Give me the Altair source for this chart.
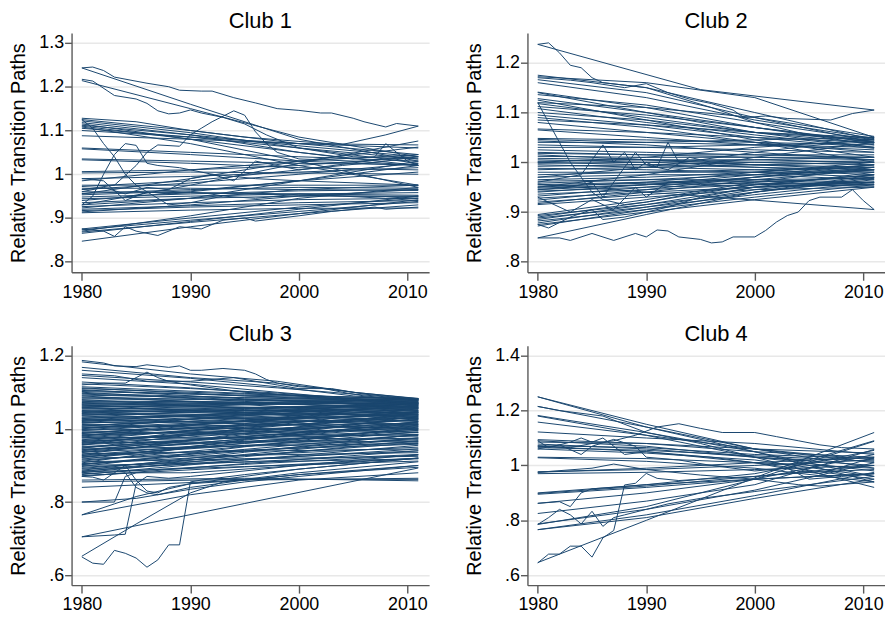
import altair as alt
import pandas as pd

LINE_COLOR = "#1a476f"
FONT = "Liberation Sans"

X_TICKS = [1980, 1990, 2000, 2010]
X_DOMAIN = [1979.05, 2012.0]

# knot years for the nearly straight paths
BULK_YEARS_4 = [1980, 1990, 2000, 2011]
BULK_YEARS_3 = [1980, 1995, 2011]

# ---------------- Club 1 ----------------
C1_TICKS = [0.8, 0.9, 1.0, 1.1, 1.2, 1.3]
C1_DOMAIN = [0.776, 1.323]
C1_BULK = [
    [1.243, 1.160, 1.080, 1.030], [1.214, 1.150, 1.085, 1.040],
    [1.125, 1.100, 1.070, 1.045], [1.122, 1.095, 1.060, 1.035],
    [1.118, 1.090, 1.050, 1.020], [1.115, 1.080, 1.030, 0.970],
    [1.112, 1.090, 1.065, 1.040], [1.108, 1.070, 1.020, 0.975],
    [1.105, 1.085, 1.060, 1.025], [1.100, 1.085, 1.070, 1.060],
    [1.088, 1.080, 1.070, 1.067], [1.060, 1.050, 1.040, 1.030],
    [1.058, 1.045, 1.030, 1.020], [1.035, 1.030, 1.025, 1.022],
    [1.033, 1.025, 1.015, 1.010], [1.006, 1.010, 1.020, 1.040],
    [1.003, 1.005, 1.003, 1.000], [0.990, 0.995, 1.005, 1.015],
    [0.975, 0.975, 0.975, 0.975], [0.972, 0.985, 1.010, 1.045],
    [0.968, 0.968, 0.965, 0.963], [0.965, 0.980, 1.000, 1.025],
    [0.960, 0.958, 0.955, 0.952], [0.956, 0.965, 0.970, 0.968],
    [0.953, 0.962, 0.985, 1.020], [0.948, 0.955, 0.962, 0.965],
    [0.944, 0.950, 0.955, 0.958], [0.940, 0.960, 0.985, 1.005],
    [0.935, 0.945, 0.950, 0.950], [0.930, 0.945, 0.965, 0.975],
    [0.926, 0.935, 0.942, 0.945], [0.923, 0.945, 0.985, 1.030],
    [0.920, 0.928, 0.935, 0.940], [0.917, 0.925, 0.930, 0.935],
    [0.914, 0.930, 0.950, 0.965], [0.912, 0.918, 0.922, 0.923],
    [0.875, 0.900, 0.925, 0.945], [0.873, 0.895, 0.915, 0.938],
    [0.870, 0.905, 0.945, 0.970], [0.868, 0.890, 0.910, 0.930],
    [0.865, 0.892, 0.920, 0.950], [0.847, 0.880, 0.910, 0.942],
    [0.930, 0.975, 1.025, 1.076], [0.955, 0.990, 1.030, 1.062],
    [0.985, 1.010, 1.030, 1.045],
]
C1_PATHS = [
    [(1980, 1.243), (1981, 1.245), (1982, 1.237), (1983, 1.222), (1986, 1.208), (1988, 1.200),
     (1989, 1.192), (1991, 1.190), (1992, 1.190), (1994, 1.175), (1996, 1.163), (1998, 1.150),
     (2000, 1.146), (2002, 1.140), (2003, 1.140), (2005, 1.128), (2006, 1.120), (2008, 1.108),
     (2009, 1.116), (2011, 1.110)],
    [(1980, 1.217), (1981, 1.213), (1983, 1.180), (1985, 1.172), (1986, 1.162), (1987, 1.145),
     (1988, 1.138), (1989, 1.140), (1990, 1.147), (1991, 1.140), (1993, 1.130), (1995, 1.115),
     (1997, 1.090), (2000, 1.060), (2005, 1.040), (2011, 1.035)],
    [(1980, 1.125), (1981, 1.105), (1982, 1.070), (1983, 1.040), (1984, 1.000), (1985, 0.975),
     (1986, 0.960), (1988, 0.955), (1990, 0.958), (1995, 0.955), (2000, 0.952), (2011, 0.948)],
    [(1980, 0.930), (1981, 0.950), (1982, 1.000), (1983, 1.045), (1984, 1.070), (1985, 1.066),
     (1986, 1.025), (1987, 1.020), (1989, 1.015), (1992, 1.000), (1996, 0.990), (2000, 0.985),
     (2011, 0.975)],
    [(1980, 0.965), (1983, 0.975), (1985, 1.020), (1986, 1.050), (1987, 1.067), (1989, 1.064),
     (1990, 1.090), (1991, 1.105), (1992, 1.120), (1994, 1.145), (1995, 1.135), (1996, 1.097),
     (1997, 1.070), (1998, 1.050), (2000, 1.035), (2005, 1.030), (2011, 1.020)],
    [(1980, 1.110), (1990, 1.080), (2000, 1.050), (2005, 1.035), (2007, 1.040), (2008, 1.070),
     (2009, 1.050), (2010, 1.030), (2011, 1.020)],
    [(1980, 1.128), (1985, 1.120), (1990, 1.100), (1995, 1.085), (2000, 1.075), (2004, 1.068),
     (2008, 1.090), (2011, 1.110)],
    [(1980, 0.875), (1982, 0.870), (1983, 0.858), (1984, 0.880), (1985, 0.870), (1987, 0.860),
     (1989, 0.880), (1991, 0.875), (1993, 0.895), (1995, 0.900), (1996, 0.893), (2000, 0.905),
     (2003, 0.915), (2007, 0.925), (2008, 0.920), (2011, 0.925)],
    [(1980, 0.960), (1982, 0.970), (1984, 0.955), (1986, 0.970), (1988, 0.965), (1990, 0.990),
     (1992, 1.000), (1994, 0.985), (1996, 1.030), (1998, 1.020), (2000, 1.010), (2004, 1.020),
     (2008, 1.030), (2011, 1.040)],
    [(1980, 0.990), (1982, 0.985), (1984, 0.940), (1986, 0.960), (1988, 0.930), (1990, 0.935),
     (1993, 0.950), (1996, 0.945), (2000, 0.955), (2004, 0.950), (2008, 0.945), (2011, 0.950)],
]

# ---------------- Club 2 ----------------
C2_TICKS = [0.8, 0.9, 1.0, 1.1, 1.2]
C2_DOMAIN = [0.779, 1.26]
C2_BULK = [
    [1.175, 1.150, 1.100, 1.045], [1.172, 1.160, 1.130, 1.050],
    [1.166, 1.140, 1.090, 1.040], [1.160, 1.130, 1.085, 1.048],
    [1.141, 1.110, 1.070, 1.035], [1.140, 1.100, 1.060, 1.030],
    [1.136, 1.115, 1.080, 1.045], [1.128, 1.100, 1.070, 1.040],
    [1.125, 1.085, 1.045, 1.010], [1.120, 1.110, 1.090, 1.052],
    [1.118, 1.090, 1.060, 1.038], [1.112, 1.095, 1.070, 1.042],
    [1.108, 1.080, 1.055, 1.030], [1.100, 1.085, 1.060, 1.050],
    [1.095, 1.075, 1.050, 1.028], [1.090, 1.070, 1.040, 1.000],
    [1.085, 1.075, 1.060, 1.045], [1.080, 1.060, 1.040, 1.020],
    [1.067, 1.060, 1.050, 1.040], [1.065, 1.050, 1.035, 1.025],
    [1.048, 1.045, 1.040, 1.035], [1.046, 1.040, 1.035, 1.030],
    [1.043, 1.035, 1.020, 1.005], [1.040, 1.040, 1.045, 1.050],
    [1.035, 1.030, 1.025, 1.020], [1.030, 1.030, 1.035, 1.040],
    [1.025, 1.020, 1.015, 1.010], [1.020, 1.015, 1.010, 1.005],
    [1.018, 1.015, 1.015, 1.015], [1.015, 1.005, 0.995, 0.985],
    [1.012, 1.010, 1.010, 1.010], [1.008, 1.005, 1.000, 0.995],
    [1.005, 1.000, 0.995, 0.990], [1.002, 1.005, 1.005, 1.000],
    [1.000, 0.995, 0.990, 0.980], [0.998, 1.000, 1.005, 1.010],
    [0.995, 0.990, 0.985, 0.975], [0.992, 0.995, 1.000, 1.003],
    [0.988, 0.985, 0.980, 0.970], [0.985, 0.990, 0.995, 1.000],
    [0.980, 0.980, 0.980, 0.980], [0.975, 0.980, 0.985, 0.990],
    [0.970, 0.975, 0.975, 0.965], [0.965, 0.970, 0.980, 0.995],
    [0.962, 0.965, 0.965, 0.960], [0.958, 0.965, 0.975, 0.985],
    [0.955, 0.960, 0.965, 0.968], [0.952, 0.958, 0.962, 0.958],
    [0.950, 0.960, 0.980, 1.000], [0.948, 0.955, 0.958, 0.955],
    [0.945, 0.955, 0.970, 0.985], [0.942, 0.950, 0.955, 0.952],
    [0.940, 0.955, 0.975, 0.995], [0.936, 0.945, 0.955, 0.960],
    [0.932, 0.950, 0.970, 0.990], [0.928, 0.940, 0.950, 0.955],
    [0.924, 0.945, 0.970, 0.995], [0.920, 0.935, 0.950, 0.960],
    [0.917, 0.940, 0.965, 0.985], [0.915, 0.930, 0.945, 0.950],
    [0.895, 0.925, 0.960, 0.990], [0.893, 0.915, 0.940, 0.965],
    [0.890, 0.920, 0.955, 0.975], [0.888, 0.910, 0.935, 0.960],
    [0.885, 0.915, 0.950, 0.980], [0.882, 0.905, 0.930, 0.955],
    [0.878, 0.910, 0.945, 0.970], [0.875, 0.900, 0.925, 0.950],
    [0.872, 0.905, 0.940, 0.968], [0.848, 0.895, 0.940, 0.975],
    [0.956, 0.940, 0.924, 0.905], [0.970, 0.990, 1.020, 1.048],
    [0.950, 0.975, 1.010, 1.040], [1.000, 1.010, 1.030, 1.045],
]
C2_PATHS = [
    [(1980, 1.237), (1995, 1.146), (2011, 1.105)],
    [(1980, 1.237), (1981, 1.240), (1982, 1.220), (1983, 1.195), (1984, 1.190), (1985, 1.170),
     (1986, 1.160), (1988, 1.155), (1990, 1.150), (1993, 1.130), (1996, 1.110), (2000, 1.080),
     (2005, 1.055), (2011, 1.040)],
    [(1980, 1.120), (1981, 1.080), (1982, 1.040), (1983, 1.000), (1984, 0.970), (1985, 0.940),
     (1986, 0.925), (1988, 0.915), (1990, 0.920), (1995, 0.940), (2000, 0.955), (2011, 0.975)],
    [(1980, 1.170), (1983, 1.165), (1985, 1.160), (1988, 1.150), (1990, 1.158), (1992, 1.140),
     (1994, 1.127), (1996, 1.118), (1998, 1.105), (1999, 1.090), (2001, 1.093), (2003, 1.088),
     (2007, 1.085), (2009, 1.098), (2011, 1.105)],
    [(1980, 0.848), (1982, 0.848), (1983, 0.843), (1985, 0.857), (1987, 0.843), (1989, 0.857),
     (1990, 0.850), (1991, 0.864), (1992, 0.862), (1993, 0.850), (1995, 0.845), (1996, 0.838),
     (1997, 0.840), (1998, 0.850), (2000, 0.850), (2001, 0.863), (2002, 0.880), (2003, 0.893),
     (2004, 0.900), (2005, 0.923), (2006, 0.930), (2008, 0.930), (2009, 0.945), (2010, 0.923),
     (2011, 0.905)],
    [(1980, 0.960), (1984, 0.975), (1986, 1.035), (1987, 1.000), (1988, 1.020), (1989, 0.985),
     (1990, 1.000), (1991, 0.990), (1992, 1.040), (1993, 1.000), (1995, 0.995), (2000, 0.990),
     (2011, 0.985)],
    [(1980, 0.945), (1983, 0.950), (1985, 0.960), (1986, 0.930), (1988, 0.990), (1989, 1.020),
     (1990, 0.995), (1992, 0.985), (1994, 1.010), (1996, 1.000), (2000, 0.995), (2011, 1.000)],
    [(1980, 0.930), (1983, 0.900), (1985, 0.925), (1987, 0.905), (1989, 0.950), (1990, 0.930),
     (1992, 0.960), (1995, 0.955), (2000, 0.960), (2011, 0.970)],
    [(1980, 0.875), (1981, 0.868), (1983, 0.890), (1985, 0.905), (1986, 0.885), (1988, 0.890),
     (1990, 0.900), (1992, 0.910), (1995, 0.930), (2000, 0.950), (2005, 0.955), (2011, 0.960)],
]

# ---------------- Club 3 ----------------
C3_TICKS = [0.6, 0.8, 1.0, 1.2]
C3_DOMAIN = [0.573, 1.227]
C3_BULK = [
    [1.115, 1.097, 1.080], [1.112, 1.090, 1.071], [1.110, 1.095, 1.082], [1.107, 1.082, 1.060],
    [1.105, 1.090, 1.078], [1.102, 1.092, 1.083], [1.100, 1.075, 1.050], [1.097, 1.085, 1.075],
    [1.095, 1.080, 1.065], [1.092, 1.085, 1.081], [1.090, 1.066, 1.040], [1.087, 1.078, 1.072],
    [1.085, 1.071, 1.058], [1.082, 1.080, 1.078], [1.080, 1.056, 1.030], [1.077, 1.072, 1.068],
    [1.075, 1.068, 1.062], [1.072, 1.076, 1.080], [1.070, 1.059, 1.048], [1.067, 1.068, 1.070],
    [1.065, 1.043, 1.020], [1.062, 1.059, 1.056], [1.060, 1.068, 1.076], [1.057, 1.050, 1.044],
    [1.055, 1.058, 1.062], [1.052, 1.044, 1.035], [1.050, 1.066, 1.083], [1.047, 1.050, 1.052],
    [1.045, 1.028, 1.010], [1.042, 1.054, 1.066], [1.040, 1.040, 1.040], [1.037, 1.048, 1.058],
    [1.035, 1.032, 1.028], [1.032, 1.053, 1.074], [1.030, 1.038, 1.046], [1.027, 1.014, 1.000],
    [1.025, 1.043, 1.060], [1.022, 1.029, 1.036], [1.020, 1.045, 1.070], [1.017, 1.020, 1.022],
    [1.015, 1.032, 1.050], [1.012, 1.001, 0.990], [1.010, 1.025, 1.040], [1.007, 1.036, 1.064],
    [1.005, 1.010, 1.015], [1.002, 1.016, 1.030], [1.000, 1.039, 1.078], [0.997, 1.001, 1.005],
    [0.995, 1.020, 1.045], [0.992, 0.986, 0.980], [0.990, 1.008, 1.025], [0.987, 1.022, 1.056],
    [0.985, 0.992, 0.998], [0.982, 0.997, 1.012], [0.980, 1.023, 1.066], [0.977, 0.975, 0.972],
    [0.975, 1.004, 1.032], [0.972, 0.987, 1.002], [0.970, 1.009, 1.048], [0.967, 0.976, 0.985],
    [0.965, 0.992, 1.018], [0.962, 0.964, 0.965], [0.960, 1.000, 1.040], [0.957, 0.976, 0.995],
    [0.955, 1.014, 1.072], [0.952, 0.964, 0.975], [0.950, 0.979, 1.008], [0.947, 1.001, 1.055],
    [0.945, 0.953, 0.960], [0.942, 0.966, 0.990], [0.940, 0.984, 1.028], [0.937, 0.954, 0.970],
    [0.935, 0.973, 1.010], [0.932, 0.939, 0.945], [0.930, 0.988, 1.045], [0.927, 0.955, 0.982],
    [0.925, 0.942, 0.958], [0.922, 0.961, 1.000], [0.920, 0.928, 0.935], [0.917, 0.969, 1.020],
    [0.915, 0.940, 0.965], [0.912, 0.952, 0.992], [0.910, 0.918, 0.925], [0.907, 0.971, 1.035],
    [0.905, 0.928, 0.950], [0.902, 0.939, 0.975], [0.900, 0.909, 0.918], [0.897, 0.951, 1.005],
    [0.895, 0.918, 0.940], [0.892, 0.927, 0.962], [0.890, 0.910, 0.930], [0.887, 0.936, 0.985],
    [0.885, 0.915, 0.945], [0.882, 0.897, 0.912], [0.880, 0.924, 0.968], [0.877, 0.903, 0.928],
    [0.875, 0.915, 0.955], [0.872, 0.896, 0.920], [0.870, 0.905, 0.940],
    [1.068, 1.072, 1.079], [1.058, 1.066, 1.074], [1.048, 1.058, 1.068], [1.038, 1.050, 1.062],
    [1.028, 1.044, 1.058], [1.018, 1.036, 1.052], [1.008, 1.028, 1.046], [0.998, 1.020, 1.040],
    [0.988, 1.012, 1.034], [0.978, 1.005, 1.030], [0.968, 0.996, 1.024], [0.958, 0.988, 1.018],
    [0.948, 0.980, 1.012], [0.938, 0.972, 1.006], [0.928, 0.964, 1.000], [1.063, 1.070, 1.082],
    [1.043, 1.056, 1.070], [1.023, 1.040, 1.056], [1.003, 1.022, 1.043], [0.983, 1.010, 1.036],
    [0.963, 0.994, 1.026], [0.943, 0.978, 1.014], [0.923, 0.960, 0.996], [0.903, 0.944, 0.984],
    [0.883, 0.930, 0.975],
    [0.860, 0.865, 0.858], [0.855, 0.862, 0.862], [0.840, 0.860, 0.865],
]
# upper, slowly converging paths of club 3
C3_TOP_YEARS = [1980, 1990, 1998, 2005, 2011]
C3_TOP = [
    [1.183, 1.150, 1.130, 1.100, 1.082], [1.168, 1.140, 1.125, 1.100, 1.083],
    [1.160, 1.138, 1.115, 1.090, 1.078], [1.146, 1.128, 1.112, 1.095, 1.080],
    [1.140, 1.122, 1.100, 1.082, 1.070], [1.128, 1.112, 1.095, 1.078, 1.065],
    [1.123, 1.110, 1.098, 1.082, 1.068],
]
C3_PATHS = [
    [(1980, 1.187), (1982, 1.180), (1983, 1.172), (1985, 1.170), (1986, 1.175), (1988, 1.168),
     (1989, 1.172), (1990, 1.160), (1991, 1.160), (1993, 1.165), (1995, 1.160), (1996, 1.150),
     (1997, 1.135), (1998, 1.125), (2000, 1.115), (2002, 1.112), (2004, 1.100), (2006, 1.090),
     (2008, 1.085), (2011, 1.083)],
    [(1980, 1.120), (1982, 1.125), (1984, 1.125), (1985, 1.140), (1986, 1.155), (1987, 1.140),
     (1988, 1.130), (1990, 1.120), (1995, 1.100), (2000, 1.090), (2011, 1.070)],
    [(1980, 1.150), (1983, 1.145), (1986, 1.130), (1990, 1.130), (1994, 1.140), (1996, 1.130),
     (1998, 1.120), (2000, 1.110), (2003, 1.110), (2006, 1.095), (2011, 1.080)],
    [(1980, 0.800), (1983, 0.800), (1984, 0.870), (1985, 0.880), (1990, 0.880), (2000, 0.900),
     (2011, 0.920)],
    [(1980, 0.800), (1985, 0.810), (1990, 0.835), (1995, 0.855), (2000, 0.870), (2011, 0.900)],
    [(1980, 0.765), (1983, 0.795), (1985, 0.815), (1990, 0.850), (1995, 0.860), (2000, 0.875),
     (2011, 0.900)],
    [(1980, 0.765), (1990, 0.820), (2000, 0.860), (2011, 0.880)],
    [(1980, 0.705), (1983, 0.710), (1984, 0.712), (1985, 0.850), (1986, 0.870), (1988, 0.865),
     (1990, 0.870), (2000, 0.900), (2011, 0.930)],
    [(1980, 0.705), (1995, 0.796), (2011, 0.893)],
    [(1980, 0.650), (1981, 0.633), (1982, 0.630), (1983, 0.668), (1984, 0.660), (1985, 0.647),
     (1986, 0.622), (1987, 0.642), (1988, 0.683), (1989, 0.683), (1990, 0.855), (1991, 0.860),
     (1995, 0.875), (2000, 0.890), (2011, 0.920)],
    [(1980, 0.652), (1985, 0.740), (1990, 0.825), (1993, 0.855), (2000, 0.880), (2011, 0.910)],
    [(1980, 0.870), (1981, 0.868), (1982, 0.860), (1983, 0.880), (1984, 0.900), (1985, 0.860),
     (1986, 0.830), (1987, 0.825), (1988, 0.840), (1990, 0.850), (1995, 0.870), (2000, 0.890),
     (2011, 0.920)],
    [(1980, 0.880), (1982, 0.875), (1984, 0.880), (1985, 0.840), (1986, 0.825), (1987, 0.820),
     (1990, 0.840), (1995, 0.860), (2000, 0.875), (2011, 0.895)],
]

# ---------------- Club 4 ----------------
C4_TICKS = [0.6, 0.8, 1.0, 1.2, 1.4]
C4_DOMAIN = [0.564, 1.436]
C4_BULK = [
    [1.250, 1.140, 1.050, 0.960], [1.250, 1.150, 1.060, 0.990],
    [1.215, 1.140, 1.060, 1.010], [1.182, 1.120, 1.050, 0.940],
    [1.180, 1.110, 1.030, 0.920], [1.158, 1.110, 1.060, 1.020],
    [1.122, 1.100, 1.080, 1.040], [1.094, 1.080, 1.050, 1.030],
    [1.090, 1.070, 1.030, 0.980], [1.085, 1.080, 1.060, 1.045],
    [1.078, 1.060, 1.030, 1.000], [1.072, 1.065, 1.040, 1.025],
    [1.070, 1.050, 1.010, 0.950], [1.065, 1.055, 1.035, 1.015],
    [1.060, 1.045, 1.020, 0.960], [1.030, 1.025, 1.010, 0.990],
    [1.028, 1.015, 0.990, 0.940], [0.977, 0.985, 1.000, 1.020],
    [0.975, 0.990, 1.010, 1.030], [0.970, 0.975, 0.985, 1.000],
    [0.900, 0.930, 0.970, 1.055], [0.898, 0.925, 0.960, 1.000],
    [0.895, 0.920, 0.950, 0.970], [0.862, 0.900, 0.950, 1.040],
    [0.825, 0.870, 0.930, 1.058], [0.787, 0.840, 0.910, 1.010],
    [0.766, 0.820, 0.890, 0.975], [0.766, 0.810, 0.880, 0.950],
    [0.646, 0.800, 0.955, 1.120], [0.785, 0.850, 0.950, 1.088],
]
C4_PATHS = [
    [(1980, 0.645), (1981, 0.677), (1982, 0.677), (1983, 0.706), (1984, 0.706), (1985, 0.666),
     (1986, 0.736), (1987, 0.763), (1988, 0.929), (1989, 0.935), (1990, 0.971), (1991, 0.953),
     (1993, 0.945), (1995, 0.950), (2000, 0.960), (2005, 0.975), (2011, 0.985)],
    [(1980, 0.785), (1981, 0.810), (1982, 0.840), (1983, 0.820), (1984, 0.787), (1985, 0.833),
     (1986, 0.778), (1987, 0.810), (1988, 0.820), (1990, 0.840), (1992, 0.860), (1995, 0.880),
     (2000, 0.905), (2005, 0.930), (2011, 0.960)],
    [(1980, 0.862), (1982, 0.868), (1983, 0.850), (1984, 0.900), (1985, 0.915), (1987, 0.920),
     (1990, 0.930), (1995, 0.940), (2000, 0.950), (2011, 0.970)],
    [(1980, 1.070), (1983, 1.065), (1985, 1.080), (1987, 1.090), (1989, 1.110), (1991, 1.140),
     (1993, 1.152), (1995, 1.135), (1997, 1.120), (2000, 1.120), (2002, 1.105), (2004, 1.090),
     (2006, 1.075), (2008, 1.065), (2011, 1.060)],
    [(1980, 1.090), (1981, 1.065), (1983, 1.085), (1984, 1.100), (1985, 1.085), (1986, 1.100),
     (1988, 1.040), (1990, 1.050), (1993, 1.040), (1996, 1.030), (2000, 1.010), (2004, 0.980),
     (2006, 0.970), (2011, 1.030)],
    [(1980, 1.060), (1982, 1.075), (1984, 1.040), (1985, 1.070), (1987, 1.095), (1989, 1.070),
     (1990, 1.030), (1993, 1.020), (1996, 1.000), (2000, 0.980), (2003, 0.990), (2005, 0.950),
     (2008, 0.960), (2011, 0.970)],
    [(1980, 0.975), (1985, 0.990), (1987, 1.005), (1990, 0.985), (1995, 0.965), (2000, 0.950),
     (2004, 0.930), (2006, 0.925), (2011, 0.940)],
    [(1980, 1.215), (1982, 1.200), (1986, 1.180), (1990, 1.120), (1995, 1.080), (2000, 1.030),
     (2005, 1.020), (2011, 1.090)],
]


def build_frame(groups, paths):
    rows = []
    for g, (bulk, bulk_years) in enumerate(groups):
        for i, vals in enumerate(bulk):
            for yr, v in zip(bulk_years, vals):
                rows.append({"id": f"g{g}b{i}", "year": yr, "value": v})
    for j, path in enumerate(paths):
        for yr, v in path:
            rows.append({"id": f"p{j}", "year": yr, "value": v})
    return pd.DataFrame(rows)


LABEL_EXPR = ("datum.value == 1 ? '1' : (datum.value < 1 ? "
              "substring(format(datum.value, '.1f'), 1) : format(datum.value, '.1f'))")


def panel(title, df, ticks, domain):
    return alt.Chart(df).mark_line(color=LINE_COLOR, strokeWidth=1, clip=True).encode(
        x=alt.X("year:Q",
                scale=alt.Scale(domain=X_DOMAIN, nice=False, zero=False),
                axis=alt.Axis(values=X_TICKS, format="d", title=None, grid=False,
                              labelFontSize=18, labelFont=FONT, labelColor="#000000",
                              tickSize=8, labelPadding=3, domainColor="#5a5a5a",
                              tickColor="#5a5a5a", domainWidth=1.4, tickWidth=1.4,
                              labelFlush=False)),
        y=alt.Y("value:Q",
                scale=alt.Scale(domain=domain, nice=False, zero=False),
                axis=alt.Axis(values=ticks, labelExpr=LABEL_EXPR,
                              title="Relative Transition Paths", titleFontSize=20,
                              titleFont=FONT, titleFontWeight="normal", titleColor="#000000",
                              titlePadding=10, labelFontSize=18, labelFont=FONT,
                              labelColor="#000000", labelPadding=1, tickSize=7,
                              grid=True, gridColor="#e8e8e8", gridWidth=1.5,
                              domainColor="#5a5a5a", tickColor="#5a5a5a",
                              domainWidth=1.4, tickWidth=1.4, labelFlush=False)),
        detail="id:N",
        order="year:Q",
    ).properties(
        width=360, height=241,
        title=alt.TitleParams(title, fontSize=22, font=FONT, fontWeight="normal",
                              color="#000000", dx=10, offset=0),
    )


c1 = panel("Club 1", build_frame([(C1_BULK, BULK_YEARS_4)], C1_PATHS), C1_TICKS, C1_DOMAIN)
c2 = panel("Club 2", build_frame([(C2_BULK, BULK_YEARS_4)], C2_PATHS), C2_TICKS, C2_DOMAIN)
c3 = panel("Club 3", build_frame([(C3_BULK, BULK_YEARS_3), (C3_TOP, C3_TOP_YEARS)], C3_PATHS),
           C3_TICKS, C3_DOMAIN)
c4 = panel("Club 4", build_frame([(C4_BULK, BULK_YEARS_4)], C4_PATHS), C4_TICKS, C4_DOMAIN)

chart = alt.vconcat(
    alt.hconcat(c1, c2, spacing=35),
    alt.hconcat(c3, c4, spacing=35),
    spacing=22,
).configure_view(stroke=None).properties(padding=0, background="#ffffff")

chart.save("out.html", embed_options={"renderer": "svg", "actions": False})
